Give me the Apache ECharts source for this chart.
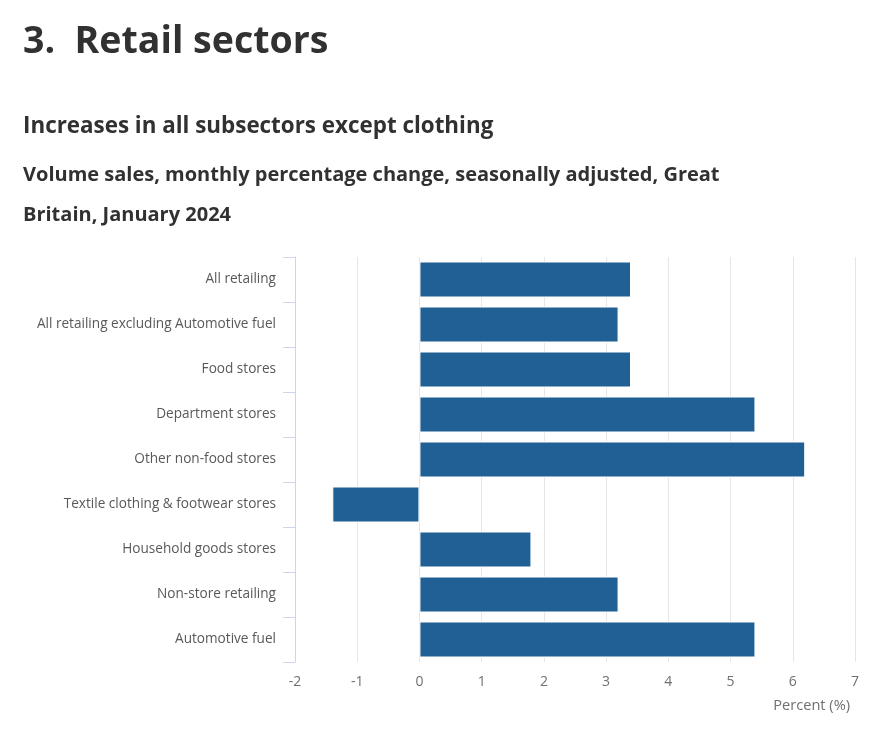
<!DOCTYPE html>
<html>
<head>
<meta charset="utf-8">
<script src="https://cdn.jsdelivr.net/npm/echarts@6/dist/echarts.min.js"></script>
<style>
html,body{margin:0;padding:0;background:#fff;}
#chart{width:895px;height:737px;}
</style>
</head>
<body>
<div id="chart"></div>
<script>
const categories = [
  "All retailing",
  "All retailing excluding Automotive fuel",
  "Food stores",
  "Department stores",
  "Other non-food stores",
  "Textile clothing & footwear stores",
  "Household goods stores",
  "Non-store retailing",
  "Automotive fuel"
];
const values = [3.4, 3.2, 3.4, 5.4, 6.2, -1.4, 1.8, 3.2, 5.4];
const xTicks = { min: -2, max: 7, interval: 1 };

const chart = echarts.init(document.getElementById('chart'));
const font = '"Open Sans", "Noto Sans", sans-serif';
chart.setOption({
  animation: false,
  title: [
    { text: '3.  Retail sectors', left: 23, top: 23, padding: 0,
      textStyle: { fontFamily: font, fontWeight: 'bold', fontSize: 37.5, color: '#323132' } },
    { text: 'Increases in all subsectors except clothing', left: 23, top: 116, padding: 0,
      textStyle: { fontFamily: font, fontWeight: 'bold', fontSize: 22.4, color: '#323132' } },
    { text: 'Volume sales, monthly percentage change, seasonally adjusted, Great\nBritain, January 2024', left: 23, top: 155, padding: 0,
      textStyle: { fontFamily: font, fontWeight: 'bold', fontSize: 20, color: '#323132', lineHeight: 40 } },
    { text: 'Percent (%)', right: 45, top: 698, padding: 0,
      textStyle: { fontFamily: font, fontWeight: 'normal', fontSize: 14.6, color: '#707070' } }
  ],
  grid: { left: 295, right: 40, top: 257, bottom: 75, containLabel: false },
  xAxis: {
    type: 'value', min: xTicks.min, max: xTicks.max, interval: xTicks.interval,
    axisLine: { show: false }, axisTick: { show: false },
    axisLabel: { color: '#707070', fontSize: 14, fontFamily: font, margin: 13 },
    splitLine: { show: true, lineStyle: { color: '#e6e6e6', width: 1 } }
  },
  yAxis: {
    type: 'category', data: categories, inverse: true,
    axisLine: { show: true, onZero: false, lineStyle: { color: '#ccd6eb', width: 1 } },
    axisTick: { show: true, length: 12, lineStyle: { color: '#ccd6eb' } },
    axisLabel: { color: '#595959', fontSize: 13.6, fontFamily: font, margin: 19, padding: [3, 0, 0, 0] },
    splitLine: { show: false }
  },
  series: [{
    type: 'bar', data: values, barWidth: 36,
    itemStyle: { color: '#206095', borderColor: '#ffffff', borderWidth: 1 }
  }]
});
</script>
</body>
</html>
